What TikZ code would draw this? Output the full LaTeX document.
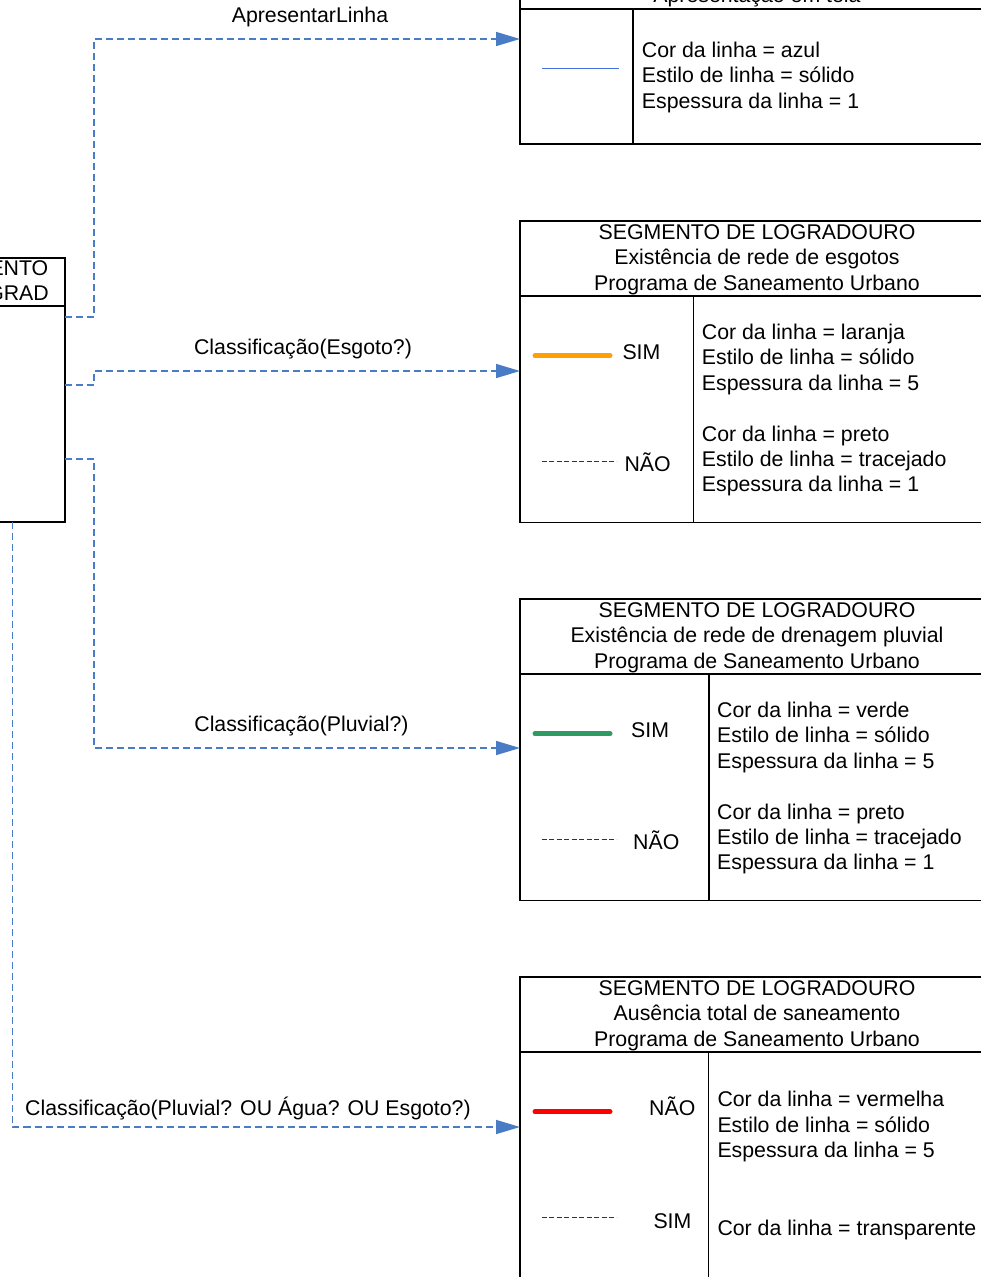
\documentclass[tikz,border=0pt]{standalone}
\usepackage{fontspec}
\setmainfont{Liberation Sans}
\usetikzlibrary{arrows.meta}
\definecolor{connblue}{HTML}{4A7CC6}
\definecolor{legblue}{HTML}{4472E0}
\definecolor{legorange}{HTML}{FFA000}
\definecolor{leggreen}{HTML}{2E9B62}
\definecolor{legred}{HTML}{FF0000}
\begin{document}
\begin{tikzpicture}[x=1pt,y=-1pt,
  txt/.style={inner sep=0pt, anchor=base west, font=\fontsize{21.3}{25}\selectfont},
  ctxt/.style={inner sep=0pt, anchor=base, font=\fontsize{21.3}{25}\selectfont},
  etxt/.style={inner sep=0pt, anchor=base east, font=\fontsize{21.3}{25}\selectfont},
  boxline/.style={line width=1.8pt, draw=black},
  conn/.style={draw=connblue, line width=1.5pt, dash pattern=on 7pt off 4pt, -{Triangle[length=24pt,width=14pt]}},
  legdash/.style={line width=0.8pt, dash pattern=on 5pt off 2.5pt, draw=black!80},
  legbold/.style={line width=5pt, line cap=round}]
\useasboundingbox (0,0) rectangle (981,1277);
\clip (0,0) rectangle (981,1277);
\fill[white] (0,0) rectangle (981,1277);

% left box
\draw[boxline] (-100,258) rectangle (65,522);
\draw[boxline] (-100,306) -- (65,306);
\node[etxt] (lt1) at (48.5,275) {ENTO};
\node[etxt] (lt2) at (49,300.7) {GRAD};
\coordinate (L1) at (65,317);
\coordinate (L2) at (65,385);
\coordinate (L3) at (65,459);
\coordinate (L4) at (12.5,522);

% box 1
\draw[boxline] (520,-68) rectangle (995,144);
\draw[boxline] (520,9) -- (995,9);
\draw[boxline] (633.3,9) -- (633.3,144);
\node[ctxt] (h1c) at (757,2) {Apresentação em tela};
\draw[legblue, line width=1.5pt] (541.7,68.5) -- (619,68.5);
\node[txt] (b1a) at (641.7,57.3) {Cor da linha = azul};
\node[txt] (b1b) at (641.7,82.7) {Estilo de linha = sólido};
\node[txt] (b1c) at (641.7,108) {Espessura da linha = 1};
\coordinate (in1) at (520,39);

% box 2
\draw[boxline] (520,221) rectangle (995,522.5);
\draw[boxline] (520,296) -- (995,296);
\draw[boxline] (693.5,296) -- (693.5,522.5);
\node[ctxt] (h2a) at (757,239.3) {SEGMENTO DE LOGRADOURO};
\node[ctxt] (h2b) at (757,264.7) {Existência de rede de esgotos};
\node[ctxt] (h2c) at (757,290) {Programa de Saneamento Urbano};
\draw[legbold, legorange] (535,355.7) -- (610,355.7);
\node[txt] (s2) at (622.3,359.3) {SIM};
\draw[legdash] (541.7,461.7) -- (616.7,461.7);
\node[txt] (n2) at (624.3,471.7) {NÃO};
\node[txt] (b2a) at (701.7,339.3) {Cor da linha = laranja};
\node[txt] (b2b) at (701.7,364.7) {Estilo de linha = sólido};
\node[txt] (b2c) at (701.7,390) {Espessura da linha = 5};
\node[txt] (b2d) at (701.7,441) {Cor da linha = preto};
\node[txt] (b2e) at (701.7,466.3) {Estilo de linha = tracejado};
\node[txt] (b2f) at (701.7,491.7) {Espessura da linha = 1};
\coordinate (in2) at (520,371);

% box 3
\draw[boxline] (520,599) rectangle (995,900.5);
\draw[boxline] (520,674) -- (995,674);
\draw[boxline] (709,674) -- (709,900.5);
\node[ctxt] (h3a) at (757,617.3) {SEGMENTO DE LOGRADOURO};
\node[ctxt] (h3b) at (757,642.7) {Existência de rede de drenagem pluvial};
\node[ctxt] (h3c) at (757,668) {Programa de Saneamento Urbano};
\draw[legbold, leggreen] (535,733.7) -- (610,733.7);
\node[txt] (s3) at (631,737.3) {SIM};
\draw[legdash] (541.7,839.7) -- (616.7,839.7);
\node[txt] (n3) at (633,849.7) {NÃO};
\node[txt] (b3a) at (717,717.3) {Cor da linha = verde};
\node[txt] (b3b) at (717,742.7) {Estilo de linha = sólido};
\node[txt] (b3c) at (717,768) {Espessura da linha = 5};
\node[txt] (b3d) at (717,819) {Cor da linha = preto};
\node[txt] (b3e) at (717,844.3) {Estilo de linha = tracejado};
\node[txt] (b3f) at (717,869.7) {Espessura da linha = 1};
\coordinate (in3) at (520,748);

% box 4
\draw[boxline] (520,977) rectangle (995,1300);
\draw[boxline] (520,1052) -- (995,1052);
\draw[boxline] (708.5,1052) -- (708.5,1300);
\node[ctxt] (h4a) at (757,995.3) {SEGMENTO DE LOGRADOURO};
\node[ctxt] (h4b) at (757,1020.7) {Ausência total de saneamento};
\node[ctxt] (h4c) at (757,1046) {Programa de Saneamento Urbano};
\draw[legbold, legred] (535,1111.7) -- (610,1111.7);
\node[txt] (n4) at (649,1115) {NÃO};
\draw[legdash] (541.7,1217.7) -- (616.7,1217.7);
\node[txt] (s4) at (653.3,1228.3) {SIM};
\node[txt] (b4a) at (717.3,1106.7) {Cor da linha = vermelha};
\node[txt] (b4b) at (717.3,1132) {Estilo de linha = sólido};
\node[txt] (b4c) at (717.3,1157.4) {Espessura da linha = 5};
\node[txt] (b4d) at (717.3,1235) {Cor da linha = transparente};
\coordinate (in4) at (520,1127);

% connectors
\draw[conn] (L1) -- ++(29,0) |- (in1);
\draw[conn] (L2) -- ++(29,0) |- (in2);
\draw[conn] (L3) -- ++(29,0) |- (in3);
\draw[conn] (L4) |- (in4);

% connector labels
\node[ctxt] (c1) at (310,22.5) {ApresentarLinha};
\node[ctxt] (c2) at (303,354) {Classificação(Esgoto?)};
\node[ctxt] (c3) at (301.5,731) {Classificação(Pluvial?)};
\node[txt] (c4) at (25,1115) {Classificação(Pluvial? OU Água? OU Esgoto?)};
\end{tikzpicture}
\end{document}
